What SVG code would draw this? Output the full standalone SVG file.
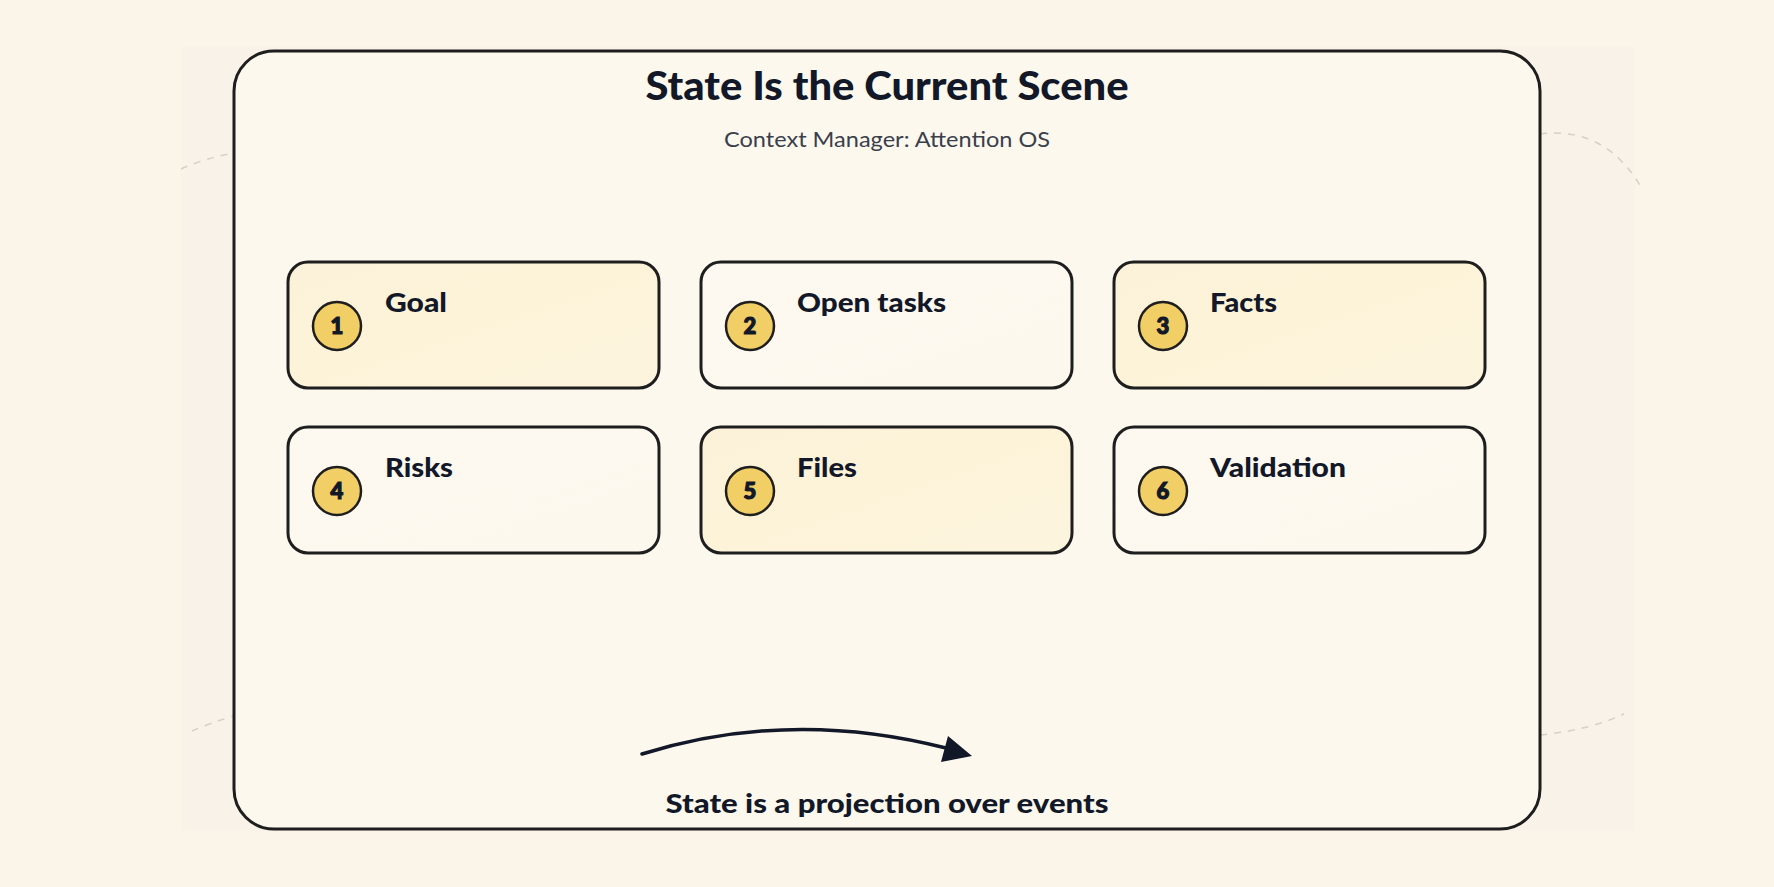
<svg xmlns="http://www.w3.org/2000/svg" width="1774" height="887" viewBox="0 0 1774 887">
  <defs>
    <style>
      .title { font-family: Lato, "Noto Sans", sans-serif; font-weight: 900; font-size: 40px; fill: #121828; }
      .sub { font-family: Lato, "Noto Sans", sans-serif; font-weight: 400; font-size: 21px; fill: #3a3f4c; }
      .card { stroke: #1e1e1e; stroke-width: 3; }
      .yel { fill: url(#gy); }
      .wht { fill: url(#gw); }
      .badge { fill: #f2cf66; stroke: #1e1e1e; stroke-width: 2.5; }
      .num { font-family: Lato, "Noto Sans", sans-serif; font-weight: 900; font-size: 22px; fill: #121828; stroke: #121828; stroke-width: 1.2; text-anchor: middle; }
      .lbl { font-family: Lato, "Noto Sans", sans-serif; font-weight: 900; font-size: 27px; fill: #121828; }
      .foot { font-family: Lato, "Noto Sans", sans-serif; font-weight: 900; font-size: 27px; fill: #121828; text-anchor: middle; }
      .dash { fill: none; stroke: #d6d0c6; stroke-width: 1.5; stroke-dasharray: 7 7; }
    </style>
    <linearGradient id="gy" x1="0" y1="0" x2="1" y2="1">
      <stop offset="0" stop-color="#fcf2d9"/>
      <stop offset="0.5" stop-color="#fdf3d9"/>
      <stop offset="1" stop-color="#fcf4de"/>
    </linearGradient>
    <linearGradient id="gw" x1="0" y1="0" x2="1" y2="1">
      <stop offset="0" stop-color="#fdf9f0"/>
      <stop offset="1" stop-color="#fcf8ee"/>
    </linearGradient>
  </defs>

  <rect x="0" y="0" width="1774" height="887" fill="#fbf4e8"/>
  <rect x="181" y="47" width="1454" height="784" fill="#f8f2e8"/>

  <g id="background-curves">
    <path class="dash" d="M181 169 Q205 158 234 153"/>
    <path class="dash" d="M1540 134 Q1605 126 1641 187"/>
    <path class="dash" d="M192 731 Q210 723 234 716"/>
    <path class="dash" d="M1540 735 Q1590 730 1624 714"/>
  </g>

  <g id="frame">
    <rect x="234" y="51" width="1306" height="778" rx="40" fill="#fcf8ee" stroke="#1e1e1e" stroke-width="3"/>
    <text class="title" x="887" y="100" text-anchor="middle" textLength="483" lengthAdjust="spacingAndGlyphs">State Is the Current Scene</text>
    <text class="sub" x="887" y="147" text-anchor="middle" textLength="326" lengthAdjust="spacingAndGlyphs">Context Manager: Attention OS</text>
  </g>

  <g id="node-goal">
    <rect class="card yel" x="288" y="262" width="371" height="126" rx="20"/>
    <circle class="badge" cx="337" cy="326" r="24"/>
    <text class="num" x="337" y="334">1</text>
    <text class="lbl" x="385" y="312" textLength="62" lengthAdjust="spacingAndGlyphs">Goal</text>
  </g>
  <g id="node-open-tasks">
    <rect class="card wht" x="701" y="262" width="371" height="126" rx="20"/>
    <circle class="badge" cx="750" cy="326" r="24"/>
    <text class="num" x="750" y="334">2</text>
    <text class="lbl" x="797" y="312" textLength="149" lengthAdjust="spacingAndGlyphs">Open tasks</text>
  </g>
  <g id="node-facts">
    <rect class="card yel" x="1114" y="262" width="371" height="126" rx="20"/>
    <circle class="badge" cx="1163" cy="326" r="24"/>
    <text class="num" x="1163" y="334">3</text>
    <text class="lbl" x="1210" y="312" textLength="67" lengthAdjust="spacingAndGlyphs">Facts</text>
  </g>
  <g id="node-risks">
    <rect class="card wht" x="288" y="427" width="371" height="126" rx="20"/>
    <circle class="badge" cx="337" cy="491" r="24"/>
    <text class="num" x="337" y="499">4</text>
    <text class="lbl" x="385" y="477" textLength="68" lengthAdjust="spacingAndGlyphs">Risks</text>
  </g>
  <g id="node-files">
    <rect class="card yel" x="701" y="427" width="371" height="126" rx="20"/>
    <circle class="badge" cx="750" cy="491" r="24"/>
    <text class="num" x="750" y="499">5</text>
    <text class="lbl" x="797" y="477" textLength="60" lengthAdjust="spacingAndGlyphs">Files</text>
  </g>
  <g id="node-validation">
    <rect class="card wht" x="1114" y="427" width="371" height="126" rx="20"/>
    <circle class="badge" cx="1163" cy="491" r="24"/>
    <text class="num" x="1163" y="499">6</text>
    <text class="lbl" x="1210" y="477" textLength="136" lengthAdjust="spacingAndGlyphs">Validation</text>
  </g>

  <g id="connectors">
    <path d="M642 754 Q790 708 946 748" fill="none" stroke="#121828" stroke-width="3.5" stroke-linecap="round"/>
    <path d="M972 756 L941 762 L948 736 z" fill="#121828"/>
  </g>

  <g id="caption">
    <text class="foot" x="887" y="813" textLength="443" lengthAdjust="spacingAndGlyphs">State is a projection over events</text>
  </g>
</svg>
